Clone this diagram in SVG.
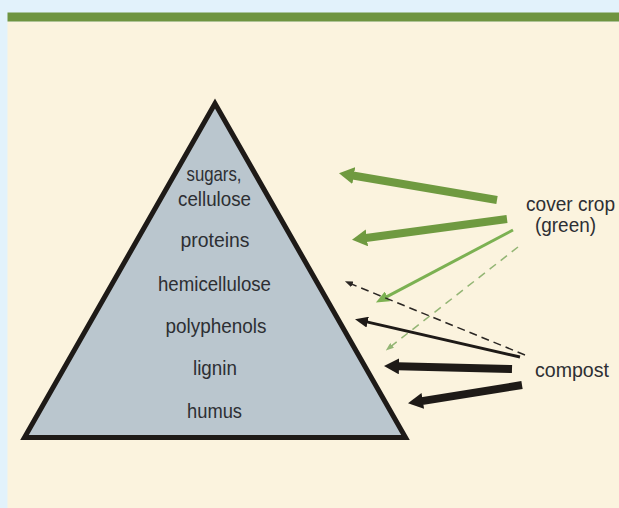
<svg xmlns="http://www.w3.org/2000/svg" width="619" height="508" viewBox="0 0 619 508">
  <style>
    .lbl { font-family: "Liberation Sans", Arial, sans-serif; font-size: 21px; fill: #2d2f33; }
    .side { font-size: 20px; }
    .mid { text-anchor: middle; }
    .g-thick { stroke: #6f9a40; stroke-width: 8; fill: none; }
    .g-thin { stroke: #7cb152; stroke-width: 3; fill: none; }
    .g-dash { stroke: #93b574; stroke-width: 1.5; stroke-dasharray: 8 6; fill: none; }
    .k-dash { stroke: #2a2623; stroke-width: 1.5; stroke-dasharray: 8 5; fill: none; }
    .k-med { stroke: #1e1a17; stroke-width: 3; fill: none; }
    .k-thick { stroke: #1e1a17; stroke-width: 8; fill: none; }
  </style>
  <defs>
    <marker id="hGreenBig" markerUnits="userSpaceOnUse" markerWidth="15" markerHeight="17" viewBox="0 0 15 17" refX="1" refY="8.5" orient="auto">
      <path d="M0,0 L15,8.5 L0,17 z" fill="#6f9a40"/>
    </marker>
    <marker id="hBlackBig" markerUnits="userSpaceOnUse" markerWidth="15" markerHeight="16" viewBox="0 0 15 16" refX="1" refY="8" orient="auto">
      <path d="M0,0 L15,8 L0,16 z" fill="#1e1a17"/>
    </marker>
    <marker id="hGreenMed" markerUnits="userSpaceOnUse" markerWidth="13" markerHeight="11" viewBox="0 0 13 11" refX="1" refY="5.5" orient="auto">
      <path d="M0,0 L13,5.5 L0,11 z" fill="#7cb152"/>
    </marker>
    <marker id="hBlackMed" markerUnits="userSpaceOnUse" markerWidth="13" markerHeight="11" viewBox="0 0 13 11" refX="1" refY="5.5" orient="auto">
      <path d="M0,0 L13,5.5 L0,11 z" fill="#1e1a17"/>
    </marker>
    <marker id="hGreenSm" markerUnits="userSpaceOnUse" markerWidth="8" markerHeight="6" viewBox="0 0 8 6" refX="1" refY="3" orient="auto">
      <path d="M0,0 L8,3 L0,6 z" fill="#93b574"/>
    </marker>
    <marker id="hBlackSm" markerUnits="userSpaceOnUse" markerWidth="8" markerHeight="6" viewBox="0 0 8 6" refX="1" refY="3" orient="auto">
      <path d="M0,0 L8,3 L0,6 z" fill="#2a2623"/>
    </marker>
  </defs>

  <!-- background -->
  <rect x="0" y="0" width="619" height="508" fill="#e2f2fb"/>
  <rect x="7.5" y="21.5" width="611.5" height="486.5" fill="#fbf3de"/>
  <rect x="7.5" y="12.5" width="611.5" height="9" fill="#6e9440"/>

  <!-- pyramid -->
  <g id="pyramid">
    <polygon points="215,103.5 24.5,437.5 405.5,437.5" fill="#bac6ce" stroke="#1e1a17" stroke-width="5" stroke-linejoin="miter"/>
    <text class="lbl mid" x="214" y="181" textLength="55" lengthAdjust="spacingAndGlyphs">sugars,</text>
    <text class="lbl mid" x="214.5" y="206" textLength="73" lengthAdjust="spacingAndGlyphs">cellulose</text>
    <text class="lbl mid" x="215" y="247" textLength="69" lengthAdjust="spacingAndGlyphs">proteins</text>
    <text class="lbl mid" x="214.5" y="291" textLength="113" lengthAdjust="spacingAndGlyphs">hemicellulose</text>
    <text class="lbl mid" x="216" y="333" textLength="101" lengthAdjust="spacingAndGlyphs">polyphenols</text>
    <text class="lbl mid" x="215" y="375" textLength="44" lengthAdjust="spacingAndGlyphs">lignin</text>
    <text class="lbl mid" x="214.5" y="418" textLength="55" lengthAdjust="spacingAndGlyphs">humus</text>
  </g>

  <g id="cover-crop">
    <text class="lbl side" x="526" y="211" textLength="89" lengthAdjust="spacingAndGlyphs">cover crop</text>
    <text class="lbl side" x="535" y="232" textLength="61" lengthAdjust="spacingAndGlyphs">(green)</text>
  </g>

  <g id="compost">
    <text class="lbl" x="535" y="377" textLength="74" lengthAdjust="spacingAndGlyphs">compost</text>
  </g>

  <g id="connectors">
    <line class="g-thick" x1="497" y1="200" x2="352.8" y2="175.5" marker-end="url(#hGreenBig)"/>
    <line class="g-thick" x1="507" y1="219" x2="365.9" y2="238" marker-end="url(#hGreenBig)"/>
    <line class="g-thin" x1="513" y1="230" x2="386.5" y2="296.9" marker-end="url(#hGreenMed)"/>
    <line class="g-dash" x1="518" y1="247" x2="391.3" y2="346.1" marker-end="url(#hGreenSm)"/>
    <line class="k-dash" x1="525" y1="355" x2="351.4" y2="284" marker-end="url(#hBlackSm)"/>
    <line class="k-med" x1="520" y1="357" x2="366.7" y2="321.9" marker-end="url(#hBlackMed)"/>
    <line class="k-thick" x1="512" y1="369" x2="398" y2="366.3" marker-end="url(#hBlackBig)"/>
    <line class="k-thick" x1="522" y1="385" x2="421.8" y2="401.1" marker-end="url(#hBlackBig)"/>
  </g>
</svg>
